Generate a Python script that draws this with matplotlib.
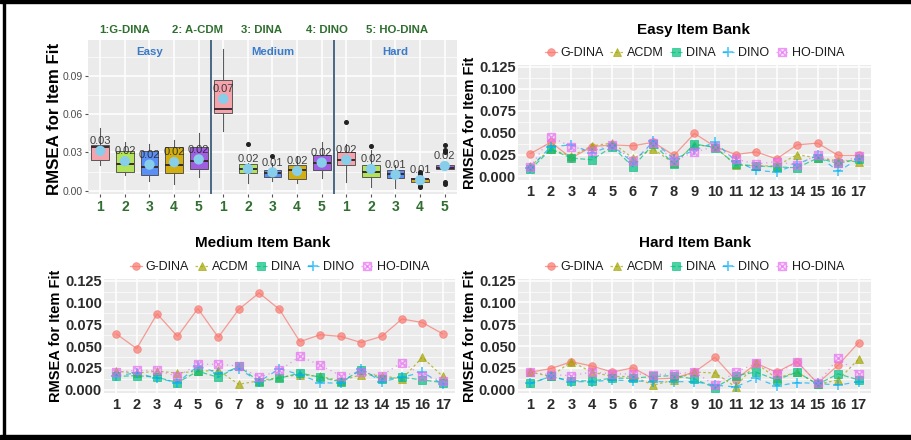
import numpy as np
import matplotlib
matplotlib.use("Agg")
import matplotlib.pyplot as plt
from matplotlib.path import Path
from matplotlib.patches import Rectangle

plt.rcParams["font.family"] = ["Liberation Sans", "DejaVu Sans"]

W, H = 912, 440

items = list(range(1, 18))
models = ["G-DINA", "ACDM", "DINA", "DINO", "HO-DINA"]
box_tags = ["1:G-DINA", "2: A-CDM", "3: DINA", "4: DINO", "5: HO-DINA"]
banks = ["Easy", "Medium", "Hard"]

# RMSEA per item
easy_gdina = [0.026, 0.039, 0.021, 0.034, 0.036, 0.035, 0.039, 0.024, 0.049, 0.034, 0.025, 0.028, 0.020, 0.036, 0.038, 0.024, 0.024]
easy_acdm = [0.012, 0.031, 0.023, 0.035, 0.038, 0.021, 0.031, 0.015, 0.036, 0.034, 0.013, 0.012, 0.012, 0.025, 0.021, 0.018, 0.017]
easy_dina = [0.008, 0.031, 0.021, 0.019, 0.034, 0.011, 0.037, 0.014, 0.037, 0.033, 0.014, 0.012, 0.011, 0.010, 0.021, 0.015, 0.020]
easy_dino = [0.010, 0.034, 0.036, 0.027, 0.035, 0.016, 0.040, 0.020, 0.030, 0.039, 0.018, 0.007, 0.005, 0.014, 0.024, 0.006, 0.020]
easy_hodina = [0.011, 0.045, 0.034, 0.029, 0.036, 0.018, 0.038, 0.018, 0.028, 0.034, 0.020, 0.014, 0.017, 0.013, 0.025, 0.015, 0.023]

medium_gdina = [0.064, 0.047, 0.087, 0.061, 0.093, 0.060, 0.092, 0.111, 0.092, 0.055, 0.063, 0.061, 0.054, 0.061, 0.081, 0.077, 0.064]
medium_acdm = [0.021, 0.019, 0.021, 0.019, 0.021, 0.022, 0.006, 0.010, 0.014, 0.017, 0.015, 0.010, 0.017, 0.016, 0.012, 0.037, 0.015]
medium_dina = [0.015, 0.016, 0.014, 0.008, 0.021, 0.014, 0.027, 0.009, 0.013, 0.019, 0.014, 0.009, 0.022, 0.012, 0.014, 0.011, 0.008]
medium_dino = [0.016, 0.019, 0.013, 0.008, 0.027, 0.019, 0.024, 0.009, 0.024, 0.017, 0.008, 0.007, 0.024, 0.009, 0.014, 0.020, 0.006]
medium_hodina = [0.020, 0.022, 0.022, 0.015, 0.029, 0.029, 0.027, 0.014, 0.022, 0.038, 0.028, 0.016, 0.020, 0.016, 0.031, 0.016, 0.010]

hard_gdina = [0.020, 0.024, 0.032, 0.027, 0.020, 0.025, 0.012, 0.013, 0.020, 0.037, 0.011, 0.030, 0.020, 0.032, 0.007, 0.028, 0.054]
hard_acdm = [0.020, 0.015, 0.032, 0.020, 0.015, 0.015, 0.005, 0.011, 0.020, 0.019, 0.003, 0.030, 0.013, 0.020, 0.006, 0.011, 0.035]
hard_dina = [0.007, 0.015, 0.010, 0.010, 0.013, 0.013, 0.015, 0.016, 0.012, 0.002, 0.016, 0.020, 0.011, 0.020, 0.006, 0.018, 0.011]
hard_dino = [0.007, 0.015, 0.009, 0.009, 0.011, 0.010, 0.009, 0.009, 0.009, 0.005, 0.003, 0.013, 0.004, 0.008, 0.007, 0.005, 0.009]
hard_hodina = [0.020, 0.017, 0.016, 0.020, 0.018, 0.018, 0.017, 0.018, 0.020, 0.005, 0.020, 0.030, 0.018, 0.032, 0.007, 0.036, 0.018]

bank_data = {
    "Easy": [easy_gdina, easy_acdm, easy_dina, easy_dino, easy_hodina],
    "Medium": [medium_gdina, medium_acdm, medium_dina, medium_dino, medium_hodina],
    "Hard": [hard_gdina, hard_acdm, hard_dina, hard_dino, hard_hodina],
}

# styling
line_colors = ["#F8766D", "#A3A500", "#00BF7D", "#00B0F6", "#E76BF3"]
line_dashes = [(None, None), (2, 2), (4, 2), (4, 4), (1, 3)]
sq_cross = Path([(-1, -1), (1, -1), (1, 1), (-1, 1), (-1, -1), (-1, -1), (1, 1), (-1, 1), (1, -1)],
                [Path.MOVETO, Path.LINETO, Path.LINETO, Path.LINETO, Path.CLOSEPOLY,
                 Path.MOVETO, Path.LINETO, Path.MOVETO, Path.LINETO])
line_markers = ["o", "^", "s", "+", sq_cross]
box_fill = ["#F5A4AE", "#B3E35A", "#5B8FF5", "#D2AE10", "#A05FE0"]
green_txt = "#2f6f2f"
blue_txt = "#3a7bc8"
axis_txt = "#2b2b2b"

fig = plt.figure(figsize=(W / 100, H / 100), dpi=100)


def px_axes(x0, y0, x1, y1):
    return fig.add_axes([x0 / W, 1 - y1 / H, (x1 - x0) / W, (y1 - y0) / H])


def gg_panel(ax):
    ax.set_facecolor("#EBEBEB")
    for s in ax.spines.values():
        s.set_visible(False)
    ax.set_axisbelow(True)
    ax.grid(which="major", color="white", lw=1.1)
    ax.grid(which="minor", color="white", lw=0.5)


# ---- box plot panel ----
axb = px_axes(88, 40, 457, 194)
gg_panel(axb)
box_sets, positions = [], []
for b, bank in enumerate(banks):
    for m in range(5):
        box_sets.append(np.array(bank_data[bank][m]))
        positions.append(b * 5 + m + 1)

bp = axb.boxplot(box_sets, positions=positions, widths=0.72, patch_artist=True,
                 whis=1.5, showcaps=False,
                 medianprops=dict(color="#3a2a2e", lw=1.4),
                 whiskerprops=dict(color="#5a5a5a", lw=0.8),
                 boxprops=dict(edgecolor="#444444", lw=0.6),
                 flierprops=dict(marker="o", markersize=2.6, markerfacecolor="#222222",
                                 markeredgecolor="#222222"))
for i, patch in enumerate(bp["boxes"]):
    patch.set_facecolor(box_fill[i % 5])

means = [v.mean() for v in box_sets]
axb.scatter(positions, means, s=55, color="#87CEEB", zorder=5, edgecolors="none")
for p, mval in zip(positions, means):
    axb.annotate(f"{round(mval, 2):.2f}", (p, mval), xytext=(0, 7), textcoords="offset points",
                 ha="center", va="center", fontsize=8, color="#222222", alpha=0.85, zorder=6)

for xv in [5.5, 10.5]:
    axb.axvline(xv, color="#4a6785", lw=1.4, zorder=4)
for k, bank in enumerate(banks):
    axb.text(3 + 5 * k, 0.922, bank, transform=axb.get_xaxis_transform(), ha="center", va="center",
             fontsize=8.2, fontweight="bold", color=blue_txt)

axb.set_xlim(0.5, 15.5)
axb.set_ylim(-0.0025, 0.118)
axb.set_xticks(positions)
axb.set_xticklabels([str(m + 1) for _ in banks for m in range(5)])
axb.set_yticks([0.0, 0.03, 0.06, 0.09])
axb.set_yticklabels(["0.00", "0.03", "0.06", "0.09"])
axb.set_yticks([0.015, 0.045, 0.075, 0.105], minor=True)
axb.tick_params(axis="y", which="major", length=2.5, color="#555555", labelsize=7.5,
                labelcolor="#4d4d4d", pad=1.5)
axb.tick_params(axis="y", which="minor", length=0)
axb.tick_params(axis="x", length=2.5, color="#555555", labelsize=10, labelcolor=green_txt, pad=1.5)
for t in axb.get_xticklabels():
    t.set_fontweight("bold")
fig.text(55 / W, 1 - 119 / H, "RMSEA for Item Fit", rotation=90, ha="center", va="center",
         fontsize=12.2, fontweight="bold")

for tag, xp in zip(box_tags, [125, 198, 262, 327, 397]):
    fig.text(xp / W, 1 - 30 / H, tag, ha="center", va="center", fontsize=8.2,
             fontweight="bold", color=green_txt)


# ---- item bank line panels ----
def line_panel(bank, box, title_x, title_y, ylab_x):
    x0, y0, x1, y1 = box
    ax = px_axes(x0, y0, x1, y1)
    gg_panel(ax)
    handles = []
    for m, name in enumerate(models):
        hollow = m == 4
        ln, = ax.plot(items, bank_data[bank][m], color=line_colors[m], lw=0.9, alpha=0.7,
                      marker=line_markers[m], markersize=5.5 if m != 3 else 7,
                      markerfacecolor="none" if hollow else line_colors[m],
                      markeredgewidth=1.2 if m >= 3 else 0.6,
                      label=name)
        if line_dashes[m][0] is not None:
            ln.set_dashes(line_dashes[m])
        handles.append(ln)
    ax.set_xlim(0.4, 17.6)
    ax.set_ylim(-0.004, 0.127)
    ax.set_xticks(items)
    ax.set_yticks([0, 0.025, 0.05, 0.075, 0.1, 0.125])
    ax.set_yticklabels(["0.000", "0.025", "0.050", "0.075", "0.100", "0.125"])
    ax.set_yticks([0.0125, 0.0375, 0.0625, 0.0875, 0.1125], minor=True)
    ax.tick_params(which="both", length=0)
    ax.tick_params(axis="y", labelsize=10.5, labelcolor=axis_txt, pad=1.5)
    ax.tick_params(axis="x", labelsize=10.5, labelcolor=axis_txt, pad=3.5)
    for t in ax.get_xticklabels() + ax.get_yticklabels():
        t.set_fontweight("bold")
    fig.text(title_x / W, 1 - title_y / H, f"{bank} Item Bank", ha="center", va="center",
             fontsize=11, fontweight="bold")
    leg = ax.legend(handles=handles, loc="center", ncol=5, frameon=False,
                    bbox_to_anchor=((x0 + x1) / 2 / W, 1 - (y0 - 12) / H),
                    bbox_transform=fig.transFigure, fontsize=9, handlelength=1.0,
                    handletextpad=0.3, columnspacing=0.5, borderaxespad=0)
    for t in leg.get_texts():
        t.set_color("#1a1a1a")
    fig.text(ylab_x / W, 1 - (y0 + y1) / 2 / H, "RMSEA for Item Fit", rotation=90,
             ha="center", va="center", fontsize=10.5, fontweight="bold")
    return ax


line_panel("Easy", (518, 65, 871, 180), 694, 30, 470)
line_panel("Medium", (104, 279, 455, 393), 263, 243, 56)
line_panel("Hard", (518, 279, 871, 393), 695, 243, 470)

# outer frame
fig.add_artist(Rectangle((0, 1 - 3 / H), 1, 3 / H, transform=fig.transFigure, color="black"))
fig.add_artist(Rectangle((3 / W, 0), 2.5 / W, 1, transform=fig.transFigure, color="black"))
fig.add_artist(Rectangle((0, 0), 1, 5 / H, transform=fig.transFigure, color="black"))

fig.savefig("out.png", dpi=100)
